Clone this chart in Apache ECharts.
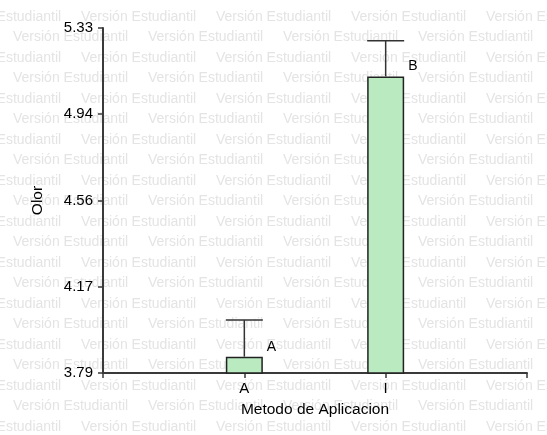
<!DOCTYPE html>
<html>
<head>
<meta charset="utf-8">
<script src="https://cdn.jsdelivr.net/npm/echarts@6/dist/echarts.min.js"></script>
<style>html,body{margin:0;padding:0;background:#fff;}#c{width:547px;height:435px;}</style>
</head>
<body>
<div id="c"></div>
<script>
const categories = ['A', 'I'];
const means = [3.863, 5.114];
const errorTops = [4.027, 5.273];
const letters = ['A', 'B'];
const yTickValues = [3.79, 4.175, 4.56, 4.945, 5.33];
const yTickLabels = ['3.79', '4.17', '4.56', '4.94', '5.33'];
const watermarkText = 'Versión Estudiantil';

const axisCats = [''].concat(categories, ['']);
const barData = ['-'].concat(means, ['-']);
const errData = categories.map((c, i) => [i + 1, means[i], errorTops[i]]);

const FONT = '"Liberation Sans", Arial, sans-serif';
const wm = [];
for (let r = 0; r < 21; r++) {
  const y = 17 + 20.5 * r;
  const x0 = (r % 2 === 0) ? -54 : 13;
  for (let k = 0; k < 5; k++) {
    wm.push({
      type: 'text', z: -10, silent: true,
      x: x0 + 135 * k, y: y,
      style: { text: watermarkText, fill: '#e4e4e4', font: '14px ' + FONT, verticalAlign: 'middle' }
    });
  }
}

const chart = echarts.init(document.getElementById('c'), null, { renderer: 'canvas' });
chart.setOption({
  animation: false,
  backgroundColor: '#fff',
  graphic: { elements: wm },
  grid: { left: 103, right: 20, top: 28, bottom: 62 },
  xAxis: {
    type: 'category', data: axisCats, boundaryGap: false,
    name: 'Metodo de Aplicacion', nameLocation: 'middle', nameGap: 29,
    nameTextStyle: { fontFamily: FONT, fontSize: 15.5, color: '#000' },
    axisLine: { lineStyle: { color: '#3a3a3a', width: 2 } },
    axisTick: { length: 5, lineStyle: { color: '#3a3a3a', width: 1.5 } },
    axisLabel: { margin: 8, fontFamily: FONT, fontSize: 15, color: '#000', interval: 0 },
    splitLine: { show: false }
  },
  yAxis: {
    type: 'value', min: 3.79, max: 5.33,
    name: 'Olor', nameLocation: 'middle', nameGap: 57,
    nameTextStyle: { fontFamily: FONT, fontSize: 15.5, color: '#000' },
    axisLine: { show: true, lineStyle: { color: '#3a3a3a', width: 2 } },
    axisTick: { show: true, length: 5, customValues: yTickValues, lineStyle: { color: '#3a3a3a', width: 1.5 } },
    axisLabel: {
      margin: 10, fontFamily: FONT, fontSize: 15, color: '#000', customValues: yTickValues,
      formatter: function (v) {
        let best = 0;
        yTickValues.forEach((t, i) => { if (Math.abs(t - v) < Math.abs(yTickValues[best] - v)) best = i; });
        return yTickLabels[best];
      }
    },
    splitLine: { show: false }
  },
  series: [
    {
      type: 'bar', data: barData, barWidth: 37, z: 2,
      itemStyle: { color: '#b9eac0', borderColor: '#222', borderWidth: 1.5 }
    },
    {
      type: 'custom', z: 3, data: errData,
      encode: { x: 0, y: [1, 2] },
      renderItem: function (params, api) {
        const x = api.value(0), lo = api.value(1), hi = api.value(2);
        const pLo = api.coord([x, lo]);
        const pHi = api.coord([x, hi]);
        const hw = 18.5;
        const st = { stroke: '#333', lineWidth: 1.5 };
        return {
          type: 'group', children: [
            { type: 'line', shape: { x1: pLo[0], y1: pLo[1], x2: pHi[0], y2: pHi[1] }, style: st },
            { type: 'line', shape: { x1: pHi[0] - hw, y1: pHi[1], x2: pHi[0] + hw, y2: pHi[1] }, style: st },
            { type: 'text', x: pLo[0] + hw + 4, y: pLo[1] - 10,
              style: { text: letters[params.dataIndex], font: '14px ' + FONT, fill: '#000', verticalAlign: 'middle' } }
          ]
        };
      }
    }
  ]
});
</script>
</body>
</html>
